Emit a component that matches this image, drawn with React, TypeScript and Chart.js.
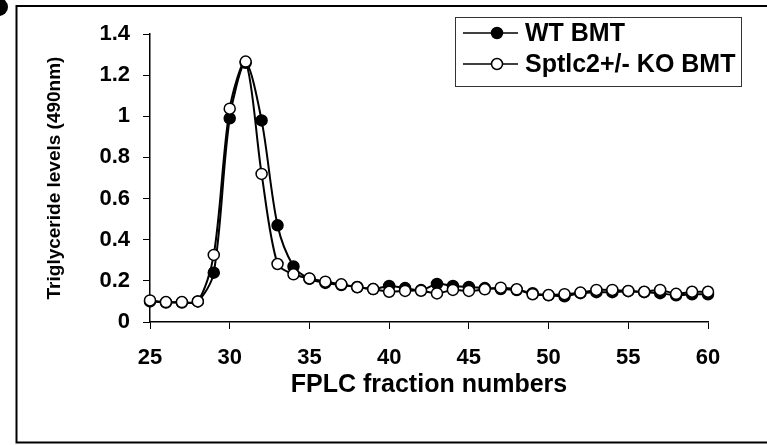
import React, { useEffect, useRef } from "react";
import { Chart, registerables } from "chart.js";

Chart.register(...registerables);

const fractions = [25, 26, 27, 28, 29, 30, 31, 32, 33, 34, 35, 36, 37, 38, 39, 40, 41, 42, 43, 44, 45, 46, 47, 48, 49, 50, 51, 52, 53, 54, 55, 56, 57, 58, 59, 60];
const wtBmt = [0.1, 0.095, 0.095, 0.1, 0.24, 0.99, 1.26, 0.98, 0.47, 0.27, 0.21, 0.19, 0.18, 0.17, 0.16, 0.175, 0.165, 0.155, 0.185, 0.175, 0.17, 0.165, 0.16, 0.155, 0.14, 0.13, 0.125, 0.14, 0.145, 0.145, 0.15, 0.145, 0.14, 0.13, 0.135, 0.135];
const koBmt = [0.105, 0.097, 0.097, 0.1, 0.326, 1.037, 1.266, 0.72, 0.282, 0.232, 0.212, 0.196, 0.183, 0.169, 0.16, 0.147, 0.151, 0.152, 0.139, 0.156, 0.151, 0.159, 0.167, 0.159, 0.135, 0.131, 0.135, 0.143, 0.156, 0.156, 0.151, 0.147, 0.156, 0.137, 0.147, 0.147];
const xTickValues = [25, 30, 35, 40, 45, 50, 55, 60];
const yTickValues = [0, 0.2, 0.4, 0.6, 0.8, 1, 1.2, 1.4];
const seriesLabels = ["WT BMT", "Sptlc2+/- KO BMT"];
const xTitle = "FPLC fraction numbers";
const yTitle = "Triglyceride levels (490nm)";

const FAMILY = "'Liberation Sans', Arial, Helvetica, sans-serif";

const framePlugin = {
  id: "frame",
  beforeDraw(chart: any) {
    const ctx = chart.ctx;
    ctx.save();
    ctx.fillStyle = "#fff";
    ctx.fillRect(0, 0, chart.width, chart.height);
    ctx.strokeStyle = "#000";
    ctx.lineWidth = 2;
    ctx.beginPath();
    ctx.moveTo(chart.width + 5, 6);
    ctx.lineTo(16.5, 6);
    ctx.lineTo(16.5, 442.5);
    ctx.lineTo(chart.width + 5, 442.5);
    ctx.stroke();
    ctx.fillStyle = "#000";
    ctx.beginPath();
    ctx.arc(-1, 7, 9, 0, Math.PI * 2);
    ctx.fill();
    ctx.restore();
  },
};

const legendPlugin = {
  id: "boxLegend",
  afterDraw(chart: any) {
    const ctx = chart.ctx;
    ctx.save();
    const bx = 455.5, by = 17.5, bw = 286, bh = 69;
    ctx.fillStyle = "#fff";
    ctx.fillRect(bx, by, bw, bh);
    ctx.strokeStyle = "#333";
    ctx.lineWidth = 1;
    ctx.strokeRect(bx, by, bw, bh);
    const rows = [33, 64];
    chart.data.datasets.forEach((ds: any, i: number) => {
      const y = rows[i];
      ctx.strokeStyle = "#000";
      ctx.lineWidth = 1.5;
      ctx.beginPath();
      ctx.moveTo(463, y);
      ctx.lineTo(518, y);
      ctx.stroke();
      ctx.beginPath();
      ctx.arc(497, y, 5.5, 0, Math.PI * 2);
      ctx.fillStyle = ds.pointBackgroundColor;
      ctx.fill();
      ctx.lineWidth = 1.5;
      ctx.stroke();
      ctx.fillStyle = "#000";
      ctx.font = `bold 25px ${FAMILY}`;
      ctx.textBaseline = "middle";
      ctx.textAlign = "left";
      ctx.fillText(ds.label, 525, y + 1);
    });
    ctx.restore();
  },
};

export default function App() {
  const canvasRef = useRef<HTMLCanvasElement | null>(null);

  useEffect(() => {
    const canvas = canvasRef.current;
    if (!canvas) return;
    const chart = new Chart(canvas, {
      type: "line",
      data: {
        datasets: [
          {
            label: seriesLabels[0],
            data: fractions.map((f, i) => ({ x: f, y: wtBmt[i] })),
            borderColor: "#000",
            borderWidth: 2,
            pointRadius: 5.5,
            pointBorderWidth: 1.5,
            pointBackgroundColor: "#000",
            pointBorderColor: "#000",
            tension: 0.3,
            clip: false as any,
            order: 1,
          },
          {
            label: seriesLabels[1],
            data: fractions.map((f, i) => ({ x: f, y: koBmt[i] })),
            borderColor: "#000",
            borderWidth: 2,
            pointRadius: 5.5,
            pointBorderWidth: 1.5,
            pointBackgroundColor: "#fff",
            pointBorderColor: "#000",
            tension: 0.3,
            clip: false as any,
            order: 0,
          },
        ],
      },
      options: {
        animation: false,
        responsive: false,
        devicePixelRatio: 1,
        layout: { padding: { left: 0, top: 34, right: 59, bottom: 0 } },
        plugins: {
          legend: { display: false },
          tooltip: { enabled: false },
        },
        scales: {
          x: {
            type: "linear",
            min: 25,
            max: 60,
            afterBuildTicks: (s: any) => {
              s.ticks = xTickValues.map((v) => ({ value: v }));
            },
            afterFit: (s: any) => {
              s.height = 123;
            },
            grid: { drawOnChartArea: false, drawTicks: true, tickLength: 7, color: "#000", lineWidth: 1 },
            border: { display: true, color: "#000", width: 1.5 },
            ticks: {
              color: "#000",
              font: { family: FAMILY, size: 22, weight: "bold" },
              padding: 16,
              maxRotation: 0,
              autoSkip: false,
              callback: (v: any) => String(v),
            },
            title: {
              display: true,
              text: xTitle,
              color: "#000",
              font: { family: FAMILY, size: 25, weight: "bold" },
              padding: { top: 0, bottom: 45 },
            },
          },
          y: {
            type: "linear",
            min: 0,
            max: 1.4,
            afterBuildTicks: (s: any) => {
              s.ticks = yTickValues.map((v) => ({ value: v }));
            },
            afterFit: (s: any) => {
              s.width = 150;
            },
            grid: { drawOnChartArea: false, drawTicks: true, tickLength: 7, color: "#000", lineWidth: 1 },
            border: { display: true, color: "#000", width: 1.5 },
            ticks: {
              color: "#000",
              font: { family: FAMILY, size: 22, weight: "bold" },
              padding: 13,
              autoSkip: false,
              callback: (v: any) => String(v),
            },
            title: {
              display: true,
              text: yTitle,
              color: "#000",
              font: { family: FAMILY, size: 19, weight: "bold" },
              padding: { top: 43, bottom: 0 },
            },
          },
        },
      } as any,
      plugins: [framePlugin, legendPlugin],
    });
    return () => chart.destroy();
  }, []);

  return (
    <div style={{ position: "absolute", left: 0, top: 0, width: 767, height: 445 }}>
      <canvas ref={canvasRef} width={767} height={445} style={{ display: "block" }} />
    </div>
  );
}
